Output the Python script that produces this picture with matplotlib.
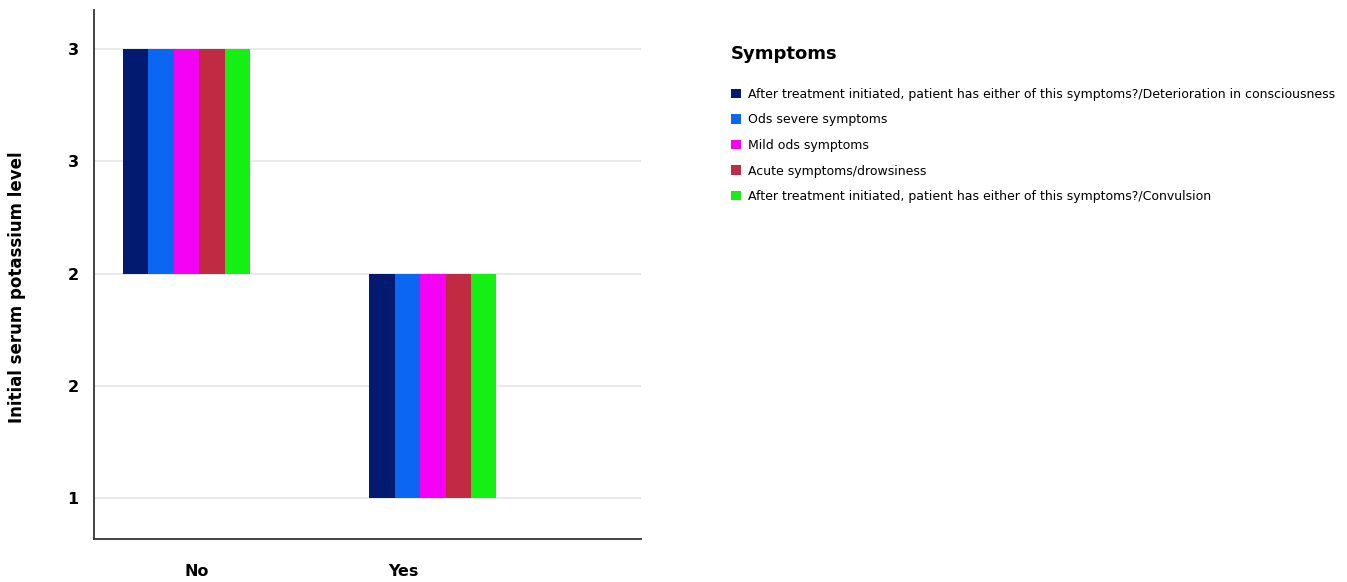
import math
import matplotlib
matplotlib.use("Agg")
import matplotlib.pyplot as plt
from matplotlib.ticker import FuncFormatter
from matplotlib.patches import Patch

# Categories on the x axis
categories = ["No", "Yes"]

# Symptom series (legend order)
series_names = [
    "After treatment initiated, patient has either of this symptoms?/Deterioration in consciousness",
    "Ods severe symptoms",
    "Mild ods symptoms",
    "Acute symptoms/drowsiness",
    "After treatment initiated, patient has either of this symptoms?/Convulsion",
]
series_colors = ["#021a70", "#0b66f2", "#f402f4", "#c12b42", "#14f014"]

# Range of the initial serum potassium level for each category (low, high)
range_low = [2, 1]
range_high = [3, 2]

y_ticks = [1.0, 1.5, 2.0, 2.5, 3.0]

fig = plt.figure(figsize=(13.47, 5.82), dpi=100)
ax = fig.add_axes([94 / 1347, 1 - 539 / 582, (641 - 94) / 1347, (539 - 10) / 582])

bar_w = 0.103
n = len(series_names)
for i, (name, color) in enumerate(zip(series_names, series_colors)):
    offset = (i - (n - 1) / 2) * bar_w
    xs = [c + offset for c in range(len(categories))]
    heights = [h - l for l, h in zip(range_low, range_high)]
    ax.bar(xs, heights, bottom=range_low, width=bar_w, color=color,
           label=name, zorder=3, linewidth=0)

ax.set_xlim(-0.375, 1.844)
ax.set_ylim(0.817, 3.175)

ax.set_yticks(y_ticks)
ax.yaxis.set_major_formatter(FuncFormatter(lambda v, p: str(math.floor(v + 0.5))))
ax.grid(axis="y", color="#e6e6e6", linewidth=1.2, zorder=0)
ax.tick_params(axis="y", length=0, pad=11, labelsize=11.5)
for lbl in ax.get_yticklabels():
    lbl.set_fontweight("bold")

# Category labels sit below the axis line
ax.set_xticks([0.043, 0.882])
ax.set_xticklabels(categories, fontsize=11.5, fontweight="bold")
ax.tick_params(axis="x", length=0, pad=18)

for s in ["top", "right"]:
    ax.spines[s].set_visible(False)
for s in ["left", "bottom"]:
    ax.spines[s].set_color("#333333")
    ax.spines[s].set_linewidth(1.3)

ax.set_ylabel("Initial serum potassium level", fontsize=12, fontweight="bold")
ax.yaxis.set_label_coords(-0.125, 0.476)

handles = [Patch(facecolor=c, edgecolor="none", label=nm)
           for nm, c in zip(series_names, series_colors)]
leg = fig.legend(handles=handles, loc="upper left",
                 bbox_to_anchor=(726 / 1347, 1 - 40 / 582),
                 frameon=False, title="Symptoms", fontsize=9,
                 handlelength=0.8, handleheight=0.8, handletextpad=0.6,
                 labelspacing=1.0, borderaxespad=0, alignment="left")
leg.get_title().set_fontweight("bold")
leg.get_title().set_fontsize(13)
leg._legend_box.sep = 18

fig.savefig("out.png", dpi=100, facecolor="white")
